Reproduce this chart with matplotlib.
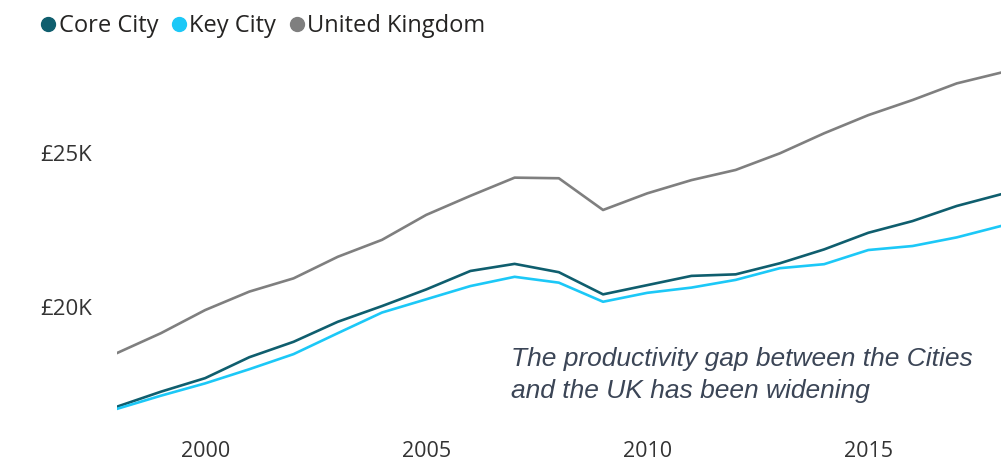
import matplotlib
matplotlib.use("Agg")
import matplotlib.pyplot as plt
from matplotlib.lines import Line2D

# Datos (miles de libras)
years = list(range(1998, 2019))
core_city = [16.75, 17.24, 17.68, 18.36, 18.86, 19.51, 20.02, 20.56, 21.16, 21.39, 21.12,
             20.40, 20.70, 21.00, 21.05, 21.41, 21.86, 22.40, 22.78, 23.27, 23.65]
key_city = [16.68, 17.11, 17.51, 17.97, 18.46, 19.14, 19.81, 20.24, 20.67, 20.97, 20.78,
            20.16, 20.45, 20.62, 20.87, 21.25, 21.38, 21.84, 21.97, 22.25, 22.62]
united_kingdom = [18.49, 19.14, 19.89, 20.49, 20.92, 21.62, 22.17, 22.98, 23.60, 24.19, 24.17,
                  23.14, 23.68, 24.11, 24.44, 24.98, 25.63, 26.22, 26.71, 27.25, 27.60]

series = ["Core City", "Key City", "United Kingdom"]
colores = ["#0f5e6e", "#1cc8f7", "#7f7f7f"]
x_ticks = [2000, 2005, 2010, 2015]
y_ticks = [20, 25]
y_labels = ["£20K", "£25K"]
nota = "The productivity gap between the Cities\nand the UK has been widening"

fig = plt.figure(figsize=(10.07, 4.61), dpi=100)
ax = fig.add_axes([0.1159, 0.0675, 0.994 - 0.1159, 0.8692 - 0.0675])

for vals, col in zip([core_city, key_city, united_kingdom], colores):
    ax.plot(years, vals, color=col, linewidth=1.9, solid_joinstyle="round")

ax.set_xlim(1998, 2018)
ax.set_ylim(16, 28)
ax.set_xticks(x_ticks)
ax.set_xticklabels([str(t) for t in x_ticks], fontsize=15.5, color="#333333", family="Open Sans")
ax.set_yticks(y_ticks)
ax.set_yticklabels(y_labels, fontsize=16, color="#333333", family="Open Sans")
ax.tick_params(axis="both", length=0)
ax.tick_params(axis="x", pad=8)
ax.tick_params(axis="y", pad=17.5)
for s in ax.spines.values():
    s.set_visible(False)

ax.text(2006.91, 17.78, nota, fontsize=19, style="italic", color="#3b4556",
        family="Liberation Sans", va="center", ha="left", linespacing=1.4)

handles = [Line2D([], [], marker="o", linestyle="none", markersize=10, color=c) for c in colores]
fig.legend(handles, series, loc="center left", bbox_to_anchor=(0.0407, 0.943), ncol=3,
           frameon=False, handlelength=0.6, handletextpad=0.15, columnspacing=0.57,
           borderaxespad=0, borderpad=0,
           prop={"family": "Open Sans", "size": 17}, labelcolor="#252423")

fig.savefig("out.png", dpi=100)
